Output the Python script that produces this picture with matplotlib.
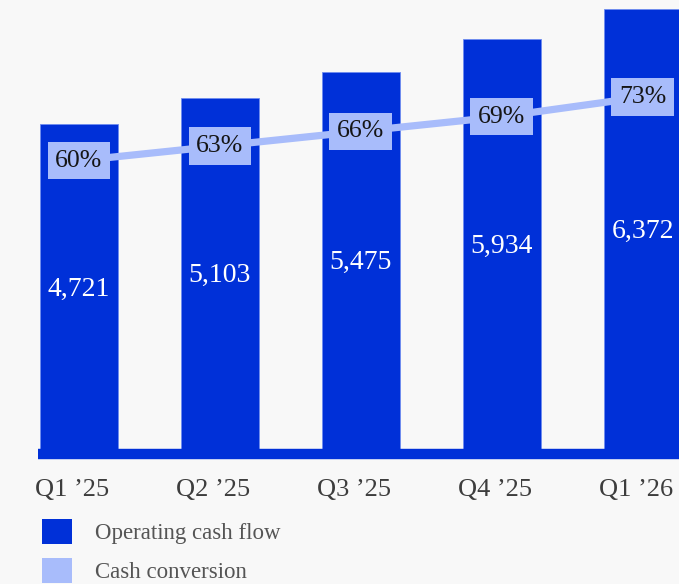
import matplotlib.pyplot as plt
import matplotlib.transforms as mtransforms
from matplotlib.patches import Patch

quarters = ["Q1 \u201925", "Q2 \u201925", "Q3 \u201925", "Q4 \u201925", "Q1 \u201926"]
cash_flow = [4721, 5103, 5475, 5934, 6372]
conversion = [60, 63, 66, 69, 73]

blue = "#0030d8"
light = "#a8bcfb"
bg = "#f8f8f8"
plt.rcParams['font.family'] = ['Liberation Serif', 'DejaVu Serif']

fig = plt.figure(figsize=(6.79, 5.84), dpi=100, facecolor=bg)
# axes run past the top/right edge so the last bar is cut off
ax = fig.add_axes([0.056, 0.2226, 0.9735, 0.8373])
ax.set_facecolor(bg)
x = list(range(len(quarters)))

ax.bar(x, cash_flow, width=0.553, color=blue, edgecolor="#6f8cf0", linewidth=0.6, zorder=2)
ax.axhline(0, color=blue, linewidth=7.5, clip_on=False, zorder=3, solid_capstyle="butt")
for xi, v in zip(x, cash_flow):
    ax.text(xi, v / 2, f"{v:,}", color="white", fontsize=20, ha="center", va="center", zorder=4)

ax.set_xlim(-0.29, 4.4)
ax.set_ylim(0, 7000)
ax.set_xticks(x)
ax.set_xticklabels(quarters, fontsize=19, color="#3d3d3d")
ax.tick_params(axis="x", length=0, pad=18)
ax.set_yticks([])
shift = mtransforms.ScaledTranslation(-7 / 100, 0, fig.dpi_scale_trans)
for lbl in ax.get_xticklabels():
    lbl.set_transform(lbl.get_transform() + shift)
for s in ax.spines.values():
    s.set_visible(False)

# cash conversion on a 0-100% scale sharing the same baseline
ax2 = ax.twinx()
ax2.set_ylim(0, 100)
ax2.plot(x, conversion, color=light, linewidth=5.2, zorder=2, solid_capstyle="butt")
for xi, p in zip(x, conversion):
    ax2.text(xi, p, f"{p}%", fontsize=18.5, color="#151515", ha="center", va="center", zorder=5,
             bbox=dict(boxstyle="square,pad=0.3", facecolor=light, edgecolor="none"))
ax2.set_yticks([])
for s in ax2.spines.values():
    s.set_visible(False)

handles = [Patch(facecolor=blue, edgecolor="none"), Patch(facecolor=light, edgecolor="none")]
fig.legend(handles, ["Operating cash flow", "Cash conversion"], loc="upper left",
           bbox_to_anchor=(42 / 679, 1 - 519 / 584), frameon=False, fontsize=16.5,
           handlelength=1.3, handleheight=1.3, handletextpad=1.0, labelspacing=0.6,
           borderpad=0, borderaxespad=0, labelcolor="#555555")

fig.savefig("out.png", dpi=100, facecolor=bg)
